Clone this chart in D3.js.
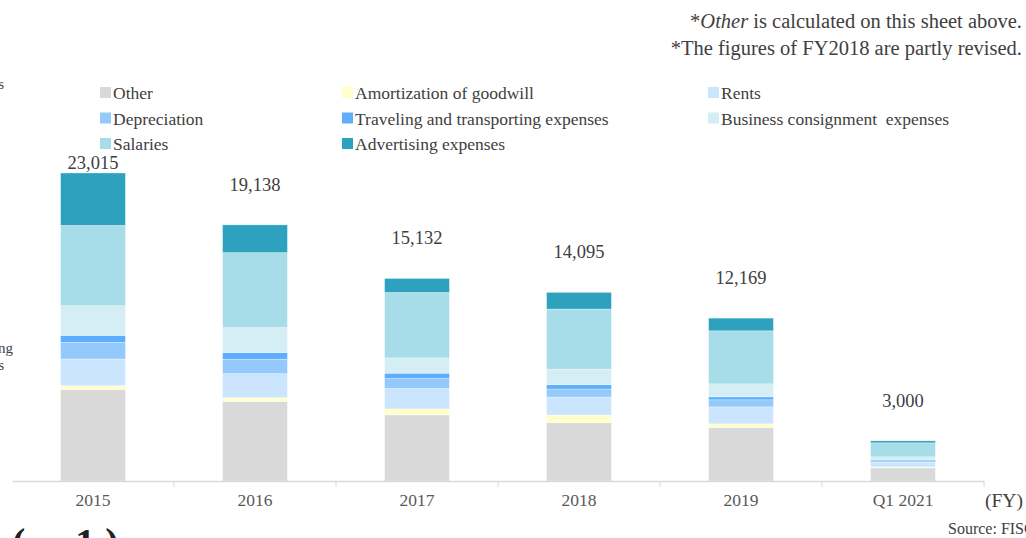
<!DOCTYPE html>
<html>
<head>
<meta charset="utf-8">
<script src="https://cdn.jsdelivr.net/npm/d3@7"></script>
<style>
  html, body { margin: 0; padding: 0; background: #fff; overflow: hidden; }
  svg { display: block; font-family: "Liberation Serif", "Times New Roman", serif; }
</style>
</head>
<body>
<svg width="1026" height="538"></svg>
<script>
// categories and series (millions of yen)
var years = ["2015", "2016", "2017", "2018", "2019", "Q1 2021"];
var totals = [23015, 19138, 15132, 14095, 12169, 3000];

var other        = [6824, 5935, 4941, 4352, 3996, 980];
var amortization = [299, 299, 448, 575, 276, 75];
var rents        = [1995, 1793, 1524, 1345, 1270, 351];
var depreciation = [1240, 1076, 747, 598, 523, 100];
var traveling    = [523, 493, 396, 321, 224, 75];
var consignment  = [2219, 1868, 1143, 1173, 971, 224];
var salaries     = [6000, 5604, 4887, 4483, 3960, 1046];
var advertising  = [3915, 2070, 1046, 1248, 949, 149];

var seriesNames = ["Other", "Amortization of goodwill", "Rents", "Depreciation",
    "Traveling and transporting expenses", "Business consignment  expenses",
    "Salaries", "Advertising expenses"];
var seriesValues = [other, amortization, rents, depreciation, traveling, consignment, salaries, advertising];
var colors = ["#d9d9d9", "#ffffcc", "#cce5ff", "#93c9fb", "#5daefc", "#d5eef5", "#a6dde8", "#2ea1bf"];

// legend is laid out row by row: 3 columns
var legendOrder = ["Other", "Amortization of goodwill", "Rents",
    "Depreciation", "Traveling and transporting expenses", "Business consignment  expenses",
    "Salaries", "Advertising expenses"];

var svg = d3.select("svg"),
    width = +svg.attr("width"),
    height = +svg.attr("height"),
    baseY = 481;

var data = years.map(function(y, i) {
    var row = { year: y };
    seriesNames.forEach(function(s, j) { row[s] = seriesValues[j][i]; });
    return row;
});

var x = d3.scaleBand()
    .domain(years)
    .range([12, 984])
    .paddingInner(0.6)
    .paddingOuter(0.3);

var y = d3.scaleLinear()
    .domain([0, 23015])
    .range([baseY, 173]);

var color = d3.scaleOrdinal().domain(seriesNames).range(colors);

var stack = d3.stack().keys(seriesNames)(data);

// bars
svg.append("g")
    .selectAll("g")
    .data(stack)
    .enter().append("g")
    .attr("fill", function(d) { return color(d.key); })
    .selectAll("rect")
    .data(function(d) { return d; })
    .enter().append("rect")
    .attr("x", function(d) { return x(d.data.year); })
    .attr("y", function(d) { return y(d[1]); })
    .attr("width", x.bandwidth())
    .attr("height", function(d) { return y(d[0]) - y(d[1]); })
    .attr("stroke", "#ffffff")
    .attr("stroke-opacity", 0.5)
    .attr("stroke-width", 0.6);

// x axis
var axis = svg.append("g")
    .attr("transform", "translate(0," + baseY + ")")
    .call(d3.axisBottom(x).tickSize(0).tickPadding(13));
axis.select(".domain").attr("stroke", "#d9d9d9").attr("stroke-width", 1.5);
axis.selectAll("text")
    .attr("font-family", "Liberation Serif, serif")
    .attr("font-size", 17.5)
    .attr("fill", "#595959");

// separators between categories
var step = x.step();
svg.append("g")
    .selectAll("line")
    .data(years)
    .enter().append("line")
    .attr("x1", function(d) { return x(d) + x.bandwidth() / 2 + step / 2; })
    .attr("x2", function(d) { return x(d) + x.bandwidth() / 2 + step / 2; })
    .attr("y1", baseY)
    .attr("y2", baseY + 6)
    .attr("stroke", "#d9d9d9")
    .attr("stroke-width", 1);

svg.append("text")
    .attr("x", 985).attr("y", 507)
    .attr("font-size", 19.5).attr("fill", "#404040")
    .text("(FY)");

// totals
svg.append("g")
    .selectAll("text")
    .data(totals)
    .enter().append("text")
    .attr("x", function(d, i) { return x(years[i]) + x.bandwidth() / 2; })
    .attr("y", function(d) { return Math.max(y(d) - 34, 169); })
    .attr("text-anchor", "middle")
    .attr("font-size", 18.5)
    .attr("fill", "#404040")
    .text(function(d) { return d3.format(",")(d); });

// legend
var colX = [100, 342, 708];
var legend = svg.append("g")
    .selectAll("g")
    .data(legendOrder)
    .enter().append("g")
    .attr("transform", function(d, i) {
        return "translate(" + colX[i % 3] + "," + (93 + Math.floor(i / 3) * 25.5) + ")";
    });

legend.append("rect")
    .attr("x", 0).attr("y", -6)
    .attr("width", 11).attr("height", 11)
    .attr("fill", function(d) { return color(d); });

legend.append("text")
    .attr("x", 13).attr("y", 0)
    .attr("dy", "0.35em")
    .attr("font-size", 17.5)
    .attr("fill", "#404040")
    .style("white-space", "pre")
    .text(function(d) { return d; });

// notes top right
var n1 = svg.append("text")
    .attr("x", 1022).attr("y", 28)
    .attr("text-anchor", "end")
    .attr("font-size", 20.5).attr("fill", "#404040");
n1.append("tspan").text("*");
n1.append("tspan").attr("font-style", "italic").text("Other");
n1.append("tspan").text(" is calculated on this sheet above.");

svg.append("text")
    .attr("x", 1022).attr("y", 55)
    .attr("text-anchor", "end")
    .attr("font-size", 20.5).attr("fill", "#404040")
    .text("*The figures of FY2018 are partly revised.");

svg.append("text")
    .attr("x", 948).attr("y", 534)
    .attr("font-size", 16).attr("fill", "#404040")
    .text("Source: FISCO");

// clipped fragments at the slide edges
svg.append("text")
    .attr("x", 4).attr("y", 89)
    .attr("text-anchor", "end")
    .attr("font-size", 15).attr("fill", "#404040")
    .text("expenses");
svg.append("text")
    .attr("x", 13).attr("y", 353)
    .attr("text-anchor", "end")
    .attr("font-size", 15).attr("fill", "#404040")
    .text("Advertising");
svg.append("text")
    .attr("x", 4).attr("y", 370)
    .attr("text-anchor", "end")
    .attr("font-size", 15).attr("fill", "#404040")
    .text("expenses");

svg.append("text")
    .attr("x", 12).attr("y", 556)
    .attr("font-size", 40).attr("font-weight", "bold").attr("fill", "#222")
    .style("white-space", "pre")
    .text("(     1 )");
</script>
</body>
</html>
